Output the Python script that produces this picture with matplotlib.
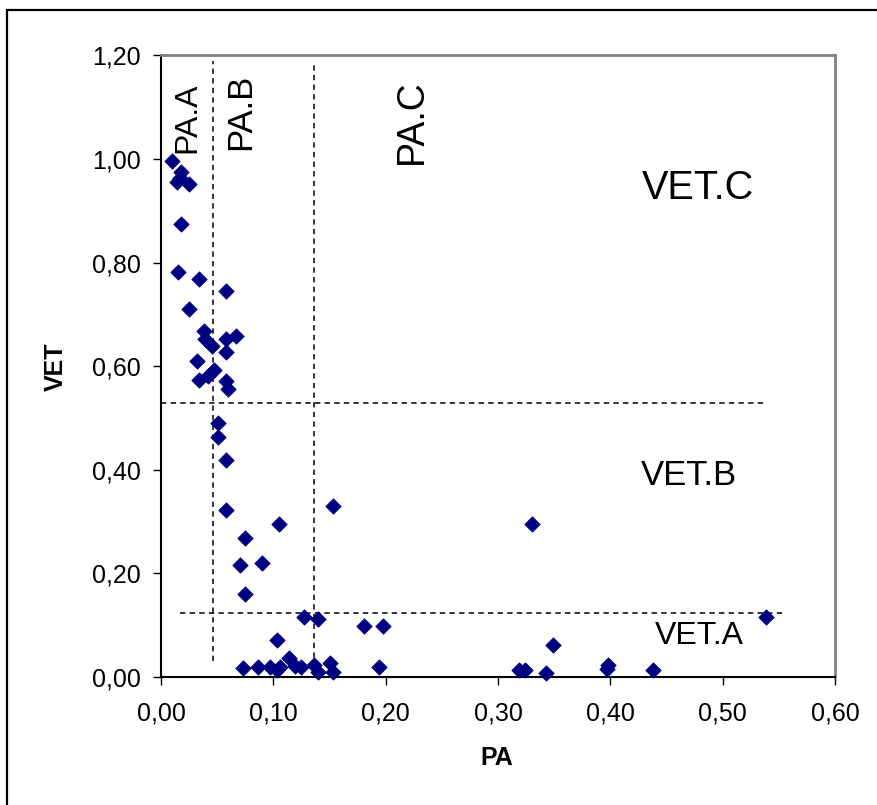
import matplotlib
matplotlib.use("Agg")
import matplotlib.pyplot as plt
from matplotlib.patches import Rectangle
from matplotlib.ticker import FuncFormatter

plt.rcParams['font.family'] = ['Liberation Sans', 'DejaVu Sans']

# Sample values: PA (x) and VET (y)
pa = [0.010, 0.018, 0.017, 0.014, 0.025, 0.018, 0.015, 0.034, 0.058, 0.025,
      0.038, 0.039, 0.045, 0.058, 0.067, 0.058, 0.032, 0.047, 0.042, 0.034,
      0.058, 0.060, 0.051, 0.051, 0.058, 0.058, 0.153, 0.105, 0.075, 0.070,
      0.090, 0.075, 0.127, 0.140, 0.181, 0.198, 0.103, 0.073, 0.086, 0.097,
      0.103, 0.106, 0.114, 0.119, 0.125, 0.136, 0.140, 0.150, 0.153, 0.194,
      0.330, 0.539, 0.349, 0.319, 0.324, 0.343, 0.398, 0.397, 0.438]
vet = [0.997, 0.974, 0.963, 0.956, 0.952, 0.874, 0.781, 0.768, 0.746, 0.710,
       0.668, 0.652, 0.639, 0.652, 0.658, 0.627, 0.610, 0.592, 0.581, 0.573,
       0.572, 0.555, 0.491, 0.464, 0.419, 0.322, 0.330, 0.295, 0.268, 0.216,
       0.220, 0.159, 0.115, 0.111, 0.097, 0.097, 0.070, 0.016, 0.019, 0.018,
       0.012, 0.019, 0.036, 0.021, 0.018, 0.023, 0.010, 0.026, 0.010, 0.018,
       0.295, 0.115, 0.061, 0.013, 0.013, 0.008, 0.023, 0.014, 0.013]

# Class boundaries: (value, start, end)
pa_cuts = [(0.046, 0.030, 1.190), (0.136, 0.000, 1.190)]
vet_cuts = [(0.529, 0.000, 0.539), (0.124, 0.017, 0.556)]

# Class labels: (text, x, y, size, rotation)
zone_labels = [
    ("PA.A", 0.0236, 1.079, 23, 90),
    ("PA.B", 0.0712, 1.091, 25, 90),
    ("PA.C", 0.2234, 1.073, 27, 90),
    ("VET.C", 0.478, 0.944, 28.5, 0),
    ("VET.B", 0.470, 0.388, 25, 0),
    ("VET.A", 0.479, 0.079, 23, 0),
]

x_ticks = [0.0, 0.1, 0.2, 0.3, 0.4, 0.5, 0.6]
y_ticks = [0.0, 0.2, 0.4, 0.6, 0.8, 1.0, 1.2]

W, H = 877, 805
fig = plt.figure(figsize=(W / 100, H / 100), dpi=100)

# Outer chart frame
fig.patches.append(Rectangle((7 / W, -0.05), 1.2, 1 - 10 / H + 0.05,
                             transform=fig.transFigure, fill=False,
                             edgecolor='black', linewidth=1.6))

ax = fig.add_axes([161 / W, 1 - 676.7 / H, (835 - 161) / W, (676.7 - 55.5) / H])
ax.set_xlim(0, 0.6)
ax.set_ylim(0, 1.2)

for v, y0, y1 in pa_cuts:
    ax.plot([v, v], [y0, y1], color='black', lw=1.1, ls=(0, (3.5, 2.8)))
for v, x0, x1 in vet_cuts:
    ax.plot([x0, x1], [v, v], color='black', lw=1.1, ls=(0, (3.5, 2.8)))

ax.scatter(pa, vet, marker='D', s=62, color='#000080', edgecolors='#000080',
           linewidths=0.5, zorder=3, clip_on=False)

for txt, x, y, fs, rot in zone_labels:
    ax.text(x, y, txt, fontsize=fs, rotation=rot, ha='center', va='center',
            color='black')

ax.set_xticks(x_ticks)
ax.set_yticks(y_ticks)
fmt = FuncFormatter(lambda v, _: f"{v:.2f}".replace('.', ','))
ax.xaxis.set_major_formatter(fmt)
ax.yaxis.set_major_formatter(fmt)
ax.tick_params(axis='both', direction='out', length=5.8, width=1.0,
               labelsize=18, color='black')
ax.tick_params(axis='y', pad=9)
ax.tick_params(axis='x', pad=12)

ax.spines['left'].set_color('black')
ax.spines['bottom'].set_color('black')
ax.spines['left'].set_linewidth(1.5)
ax.spines['bottom'].set_linewidth(1.5)
ax.spines['top'].set_color('#808080')
ax.spines['right'].set_color('#808080')
ax.spines['top'].set_linewidth(2)
ax.spines['right'].set_linewidth(2)

fig.text(56 / W, 1 - 367 / H, "VET", rotation=90, fontsize=18,
         fontweight='bold', ha='center', va='center')
fig.text(497 / W, 1 - 758 / H, "PA", fontsize=18, fontweight='bold',
         ha='center', va='center')

fig.savefig("out.png", dpi=100)
